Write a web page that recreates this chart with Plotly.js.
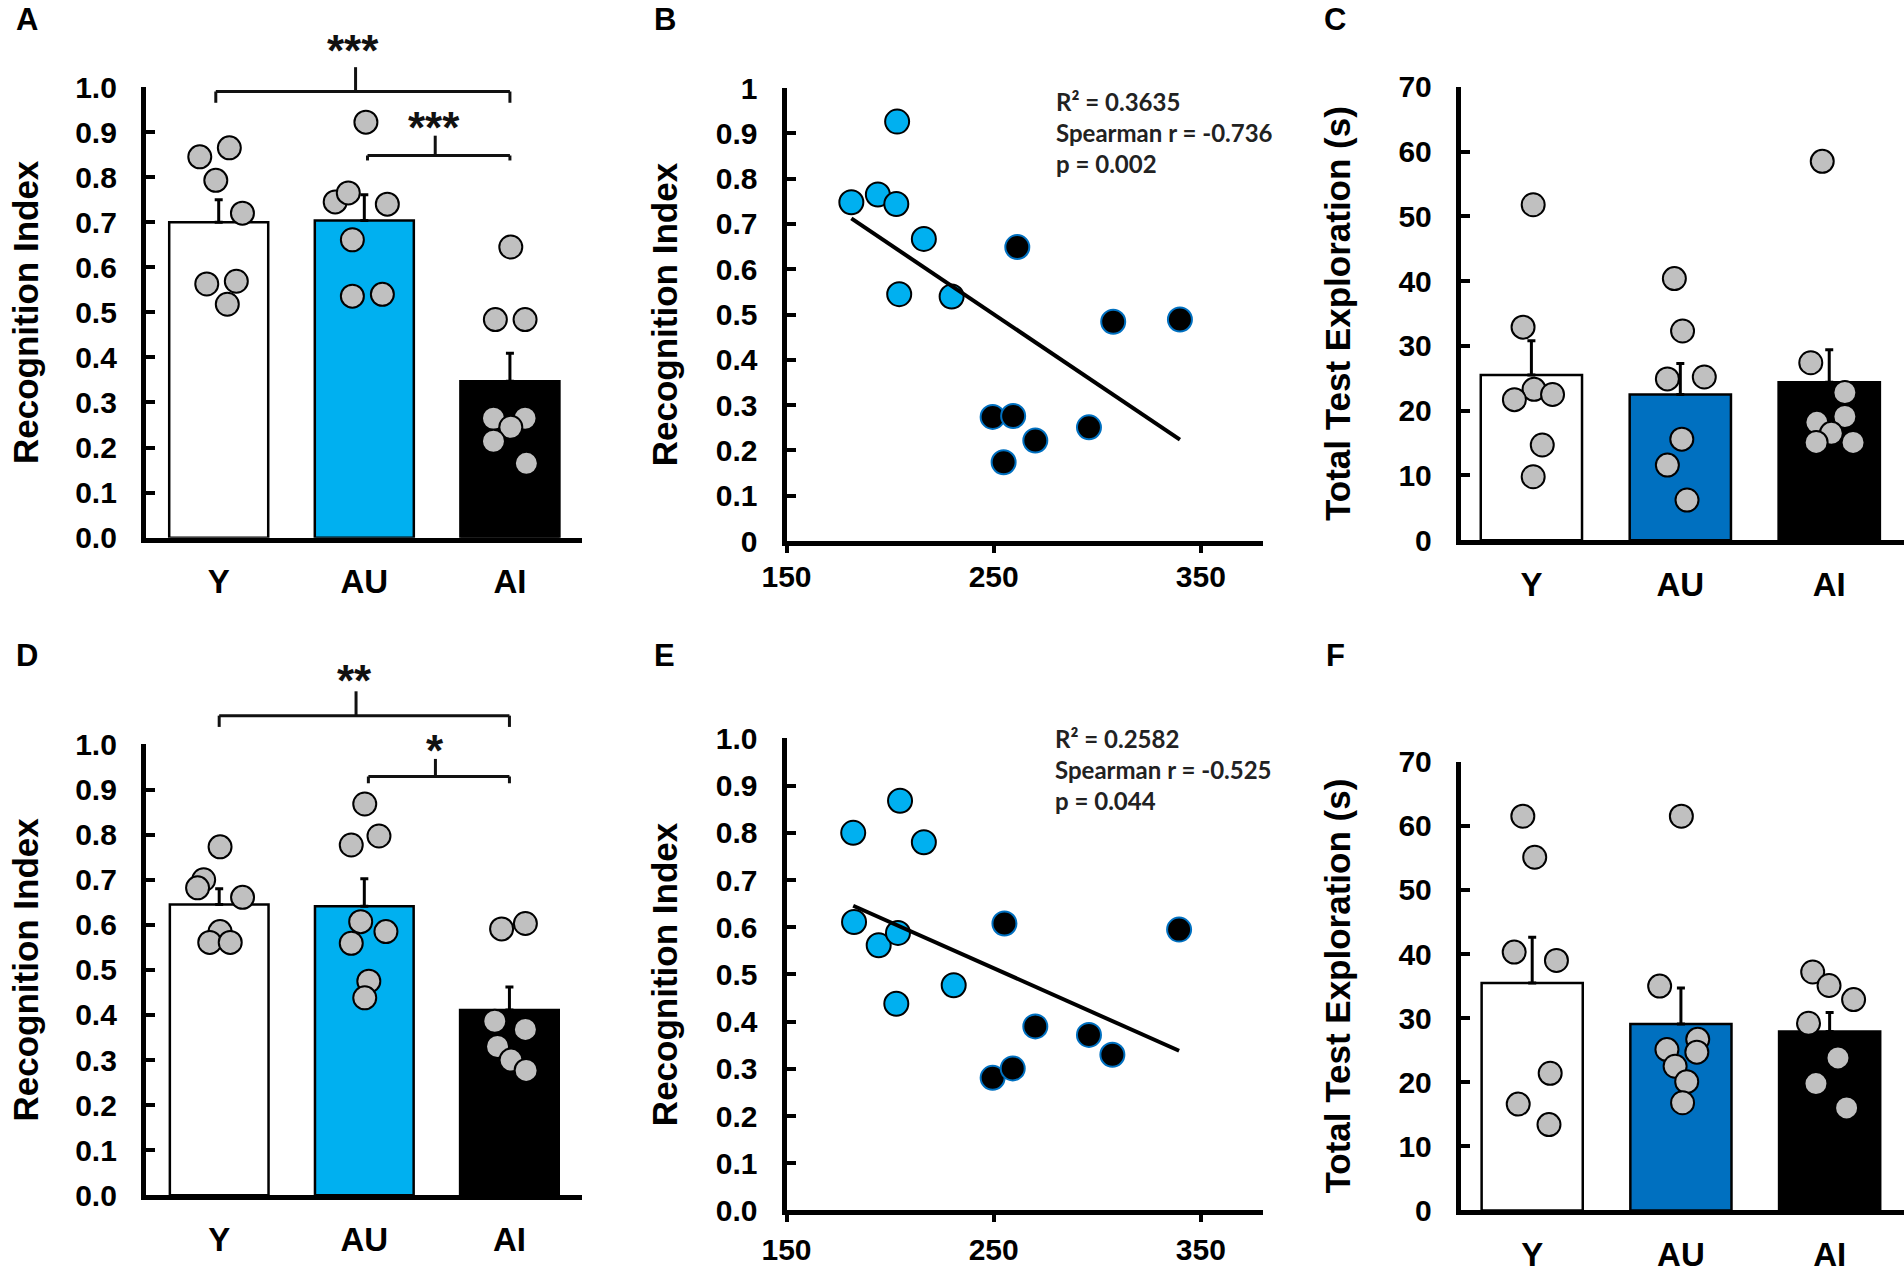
<!DOCTYPE html>
<html><head><meta charset="utf-8">
<script src="https://cdn.plot.ly/plotly-3.0.1.min.js"></script>
<style>html,body{margin:0;padding:0;background:#fff}#chart{width:1904px;height:1283px}</style>
</head><body><div id="chart"></div>
<script>
// ---------- data ----------
const groups = ['Y', 'AU', 'AI'];

// Panel A : Recognition Index (bars = mean, error = SEM, dots = animals)
const aMean = [0.700, 0.704, 0.347];
const aSem  = [0.050, 0.057, 0.062];
const aY    = [0.845, 0.865, 0.793, 0.720, 0.563, 0.569, 0.518];
const aAU   = [0.922, 0.745, 0.765, 0.740, 0.661, 0.536, 0.540];
const aAI   = [0.645, 0.484, 0.484, 0.265, 0.265, 0.245, 0.214, 0.165];
const aYj   = [-0.130, 0.073, -0.020, 0.163, -0.082, 0.121, 0.059];
const aAUj  = [0.011, -0.200, -0.110, 0.158, -0.082, -0.082, 0.124];
const aAIj  = [0.006, -0.100, 0.104, -0.113, 0.104, 0.006, -0.113, 0.113];

// Panel B : Recognition Index vs x
const bAUx = [181.3, 194.1, 203.4, 203.0, 216.3, 204.4, 229.7];
const bAUy = [0.748, 0.765, 0.926, 0.744, 0.667, 0.545, 0.540];
const bAIx = [261.4, 249.5, 259.4, 270.1, 254.8, 296.0, 307.7, 339.9];
const bAIy = [0.649, 0.274, 0.276, 0.222, 0.174, 0.251, 0.484, 0.489];
const bStats = ['R² = 0.3635', 'Spearman r = -0.736', 'p = 0.002'];

// Panel C : Total Test Exploration (s)
const cMean = [25.5, 22.5, 24.4];
const cSem  = [5.3, 4.8, 5.0];
const cY    = [51.8, 32.9, 23.3, 21.7, 22.5, 14.7, 9.8];
const cAU   = [40.4, 32.3, 24.9, 25.2, 15.6, 11.6, 6.2];
const cAI   = [58.5, 27.4, 22.8, 18.2, 19.1, 16.5, 15.1, 15.1];
const cYj   = [0.012, -0.056, 0.018, -0.114, 0.142, 0.073, 0.012];
const cAUj  = [-0.040, 0.015, -0.087, 0.161, 0.010, -0.087, 0.045];
const cAIj  = [-0.047, -0.124, 0.105, -0.083, 0.105, 0.014, -0.088, 0.160];

// Panel D : Recognition Index
const dMean = [0.645, 0.641, 0.411];
const dSem  = [0.035, 0.061, 0.051];
const dY    = [0.773, 0.700, 0.682, 0.661, 0.585, 0.561, 0.561];
const dAU   = [0.868, 0.777, 0.797, 0.607, 0.585, 0.559, 0.475, 0.438];
const dAI   = [0.591, 0.603, 0.386, 0.368, 0.330, 0.300, 0.277];
const dYj   = [0.006, -0.107, -0.149, 0.161, 0.006, -0.065, 0.076];
const dAUj  = [0.003, -0.090, 0.101, -0.025, 0.149, -0.090, 0.031, 0.003];
const dAIj  = [-0.054, 0.110, -0.101, 0.110, -0.082, 0.011, 0.115];

// Panel E : Recognition Index vs x
const eAUx = [182.2, 204.8, 216.3, 182.6, 194.5, 203.8, 203.0, 230.7];
const eAUy = [0.800, 0.868, 0.780, 0.611, 0.562, 0.588, 0.438, 0.477];
const eAIx = [255.2, 339.5, 270.1, 296.0, 307.3, 249.5, 259.2];
const eAIy = [0.608, 0.595, 0.390, 0.372, 0.330, 0.281, 0.301];
const eStats = ['R² = 0.2582', 'Spearman r = -0.525', 'p = 0.044'];

// Panel F : Total Test Exploration (s)
const fMean = [35.5, 29.1, 27.9];
const fSem  = [7.1, 5.6, 3.0];
const fY    = [61.5, 55.1, 40.3, 39.0, 21.4, 16.6, 13.4];
const fAU   = [61.5, 35.0, 25.1, 26.7, 24.7, 22.5, 20.1, 16.8];
const fAI   = [37.2, 35.1, 32.9, 29.2, 23.8, 19.8, 16.0];
const fYj   = [-0.063, 0.017, -0.121, 0.163, 0.121, -0.094, 0.113];
const fAUj  = [0.003, -0.143, -0.094, 0.113, 0.107, -0.039, 0.039, 0.011];
const fAIj  = [-0.114, -0.004, 0.161, -0.142, 0.056, -0.092, 0.114];

// ---------- styling ----------
const F = 'Liberation Sans, Arial, sans-serif';
const LIGHTBLUE = '#00B0F0', DARKBLUE = '#0070C0', DOTGRAY = '#C0C0C0';
const traces = [];

function barPanel(xa, ya, mean, sem, auColor, sets) {
  traces.push({
    type: 'bar', xaxis: xa, yaxis: ya, x: [0, 1, 2], y: mean, width: 0.68,
    marker: {color: ['#FFFFFF', auColor, '#000000'], line: {color: '#000', width: 2.5}},
    error_y: {type: 'data', symmetric: false, array: sem, arrayminus: [0, 0, 0],
              color: '#000', thickness: 3, width: 4},
    hoverinfo: 'skip'
  });
  sets.forEach(([vals, jit], gi) => {
    traces.push({
      type: 'scatter', mode: 'markers', xaxis: xa, yaxis: ya, cliponaxis: false,
      x: vals.map((v, i) => gi + jit[i]), y: vals,
      marker: {size: 23, color: DOTGRAY, line: {color: '#000', width: 2}},
      hoverinfo: 'skip'
    });
  });
}

function fit(xs, ys) {
  const n = xs.length, mx = xs.reduce((a, b) => a + b) / n, my = ys.reduce((a, b) => a + b) / n;
  let sxy = 0, sxx = 0;
  xs.forEach((x, i) => { sxy += (x - mx) * (ys[i] - my); sxx += (x - mx) * (x - mx); });
  const s = sxy / sxx, b = my - s * mx;
  const x0 = Math.min(...xs), x1 = Math.max(...xs);
  return {x: [x0, x1], y: [b + s * x0, b + s * x1]};
}

function scatterPanel(xa, ya, auX, auY, aiX, aiY) {
  traces.push({type: 'scatter', mode: 'markers', xaxis: xa, yaxis: ya, cliponaxis: false,
    x: auX, y: auY, marker: {size: 24, color: LIGHTBLUE, line: {color: '#000', width: 2}}, hoverinfo: 'skip'});
  traces.push({type: 'scatter', mode: 'markers', xaxis: xa, yaxis: ya, cliponaxis: false,
    x: aiX, y: aiY, marker: {size: 24, color: '#000', line: {color: DARKBLUE, width: 2}}, hoverinfo: 'skip'});
  const f = fit(auX.concat(aiX), auY.concat(aiY));
  traces.push({type: 'scatter', mode: 'lines', xaxis: xa, yaxis: ya, x: f.x, y: f.y,
    line: {color: '#000', width: 4}, hoverinfo: 'skip'});
}

barPanel('x', 'y', aMean, aSem, LIGHTBLUE, [[aY, aYj], [aAU, aAUj], [aAI, aAIj]]);
scatterPanel('x2', 'y2', bAUx, bAUy, bAIx, bAIy);
barPanel('x3', 'y3', cMean, cSem, DARKBLUE, [[cY, cYj], [cAU, cAUj], [cAI, cAIj]]);
barPanel('x4', 'y4', dMean, dSem, LIGHTBLUE, [[dY, dYj], [dAU, dAUj], [dAI, dAIj]]);
scatterPanel('x5', 'y5', eAUx, eAUy, eAIx, eAIy);
barPanel('x6', 'y6', fMean, fSem, DARKBLUE, [[fY, fYj], [fAU, fAUj], [fAI, fAIj]]);

// ---------- axes ----------
const tickFont = {family: F, size: 30, color: '#000', weight: 700};
const titleFont = {family: F, size: 35, color: '#000', weight: 700};

function yAx(domain, anchor, range, dtick, fmt, title, standoff) {
  return {domain, anchor, range, dtick, tick0: 0, tickformat: fmt,
    showline: true, linewidth: 5, linecolor: '#000',
    ticks: 'inside', ticklen: 9, tickwidth: 4, tickcolor: '#000',
    showgrid: false, zeroline: false, tickfont: tickFont, ticklabelstandoff: 18,
    title: {text: title, font: titleFont, standoff: standoff}, fixedrange: true};
}
// companion axis that draws the outer half of the "cross" tick marks
function yCross(over, domain, anchor, range, dtick) {
  return {overlaying: over, domain, anchor, range, dtick, tick0: 0, side: 'left',
    showline: false, ticks: 'outside', ticklen: 5, tickwidth: 4, tickcolor: '#000',
    showticklabels: false, showgrid: false, zeroline: false, fixedrange: true};
}
function xCat(domain, anchor, range) {
  return {domain, anchor, range, tickmode: 'array', tickvals: [0, 1, 2], ticktext: groups,
    showline: true, linewidth: 5, linecolor: '#000', ticks: '',
    showgrid: false, zeroline: false, ticklabelstandoff: 11,
    tickfont: {family: F, size: 33, color: '#000', weight: 700}, fixedrange: true};
}
function xNum(domain, anchor, standoff) {
  return {domain, anchor, range: [150, 380], tick0: 150, dtick: 100,
    showline: true, linewidth: 5, linecolor: '#000',
    ticks: 'outside', ticklen: 7, tickwidth: 4, tickcolor: '#000',
    showgrid: false, zeroline: false, ticklabelstandoff: standoff, tickfont: tickFont, fixedrange: true};
}
function xCross(over, domain, anchor) {
  return {overlaying: over, domain, anchor, range: [150, 380], tick0: 150, dtick: 100, side: 'bottom',
    showline: false, ticks: 'inside', ticklen: 7, tickwidth: 4, tickcolor: '#000',
    showticklabels: false, showgrid: false, zeroline: false, fixedrange: true};
}

const colL = [0.07663, 0.30567], colM = [0.41308, 0.66334], colR = [0.76723, 1.0];
const rowA = [0.58090, 0.93219], rowB = [0.57833, 0.93133], rowC = [0.57896, 0.93227];
const rowD = [0.06836, 0.41972], rowE = [0.05651, 0.42447], rowF = [0.05651, 0.40631];

// ---------- significance brackets ----------
const shapes = [];
function bracket(xa, ya, x0, x1, xc, yh, yEnd, yTop) {
  const base = {type: 'line', xref: xa, yref: ya + ' domain', line: {color: '#111', width: 3}};
  shapes.push(Object.assign({}, base, {x0: x0, x1: x1, y0: yh, y1: yh}));
  shapes.push(Object.assign({}, base, {x0: x0, x1: x0, y0: yh, y1: yEnd}));
  shapes.push(Object.assign({}, base, {x0: x1, x1: x1, y0: yh, y1: yEnd}));
  shapes.push(Object.assign({}, base, {x0: xc, x1: xc, y0: yh, y1: yTop}));
}
bracket('x', 'y', -0.02, 2.0, 0.94, 0.990, 0.965, 1.044);
bracket('x', 'y', 1.022, 2.0, 1.487, 0.848, 0.837, 0.892);
bracket('x4', 'y4', 0.0, 2.0, 0.943, 1.064, 1.039, 1.118);
bracket('x4', 'y4', 1.028, 2.0, 1.49, 0.929, 0.914, 0.968);

const starFont = {family: F, size: 44, color: '#111', weight: 700};
const letterFont = {family: F, size: 31, color: '#000', weight: 700};
const statFont = {family: 'Lato, Noto Sans, sans-serif', size: 24, color: '#222', weight: 700};
const mid = {showarrow: false, xanchor: 'center', yanchor: 'middle'};

const annotations = [
  Object.assign({xref: 'x', yref: 'paper', x: 0.92, y: 0.96025, text: '***', font: starFont}, mid),
  Object.assign({xref: 'x', yref: 'paper', x: 1.478, y: 0.90101, text: '***', font: starFont}, mid),
  Object.assign({xref: 'x4', yref: 'paper', x: 0.935, y: 0.46945, text: '**', font: starFont}, mid),
  Object.assign({xref: 'x4', yref: 'paper', x: 1.487, y: 0.41512, text: '*', font: starFont}, mid),
  {xref: 'paper', yref: 'paper', x: 0.55357, y: 0.89673, xanchor: 'left', yanchor: 'middle', align: 'left',
   text: bStats.join('<br>'), showarrow: false, font: statFont},
  {xref: 'paper', yref: 'paper', x: 0.55305, y: 0.40055, xanchor: 'left', yanchor: 'middle', align: 'left',
   text: eStats.join('<br>'), showarrow: false, font: statFont}
];
[['A', 0.01418, 0.9848], ['B', 0.34926, 0.9848], ['C', 0.70116, 0.98519],
 ['D', 0.01392, 0.48909], ['E', 0.34926, 0.48870], ['F', 0.70168, 0.48909]].forEach(([t, x, y]) => {
  annotations.push(Object.assign({xref: 'paper', yref: 'paper', x, y, text: t, font: letterFont}, mid));
});

const layout = {
  width: 1904, height: 1283, margin: {l: 0, r: 0, t: 0, b: 0},
  paper_bgcolor: '#fff', plot_bgcolor: 'rgba(0,0,0,0)', showlegend: false,
  font: {family: F, color: '#000'},
  xaxis:  xCat(colL, 'y', [-0.50, 2.495]),
  yaxis:  yAx(rowA, 'x', [0, 1], 0.1, '.1f', 'Recognition Index', 27),
  xaxis2: xNum(colM, 'y2', -2),
  yaxis2: yAx(rowB, 'x2', [0, 1], 0.1, '', 'Recognition Index', 29),
  xaxis3: xCat(colR, 'y3', [-0.474, 2.502]),
  yaxis3: yAx(rowC, 'x3', [0, 70], 10, '', 'Total Test Exploration (s)', 39),
  xaxis4: xCat(colL, 'y4', [-0.505, 2.50]),
  yaxis4: yAx(rowD, 'x4', [0, 1], 0.1, '.1f', 'Recognition Index', 27),
  xaxis5: xNum(colM, 'y5', 2),
  yaxis5: yAx(rowE, 'x5', [0, 1], 0.1, '.1f', 'Recognition Index', 29),
  xaxis6: xCat(colR, 'y6', [-0.48, 2.50]),
  yaxis6: yAx(rowF, 'x6', [0, 70], 10, '', 'Total Test Exploration (s)', 39),
  yaxis7:  yCross('y',  rowA, 'x',  [0, 1], 0.1),
  yaxis8:  yCross('y2', rowB, 'x2', [0, 1], 0.1),
  yaxis9:  yCross('y3', rowC, 'x3', [0, 70], 10),
  yaxis10: yCross('y4', rowD, 'x4', [0, 1], 0.1),
  yaxis11: yCross('y5', rowE, 'x5', [0, 1], 0.1),
  yaxis12: yCross('y6', rowF, 'x6', [0, 70], 10),
  xaxis7: xCross('x2', colM, 'y2'),
  xaxis8: xCross('x5', colM, 'y5'),
  shapes, annotations
};

Plotly.newPlot('chart', traces, layout, {staticPlot: true, displayModeBar: false});
</script></body></html>
